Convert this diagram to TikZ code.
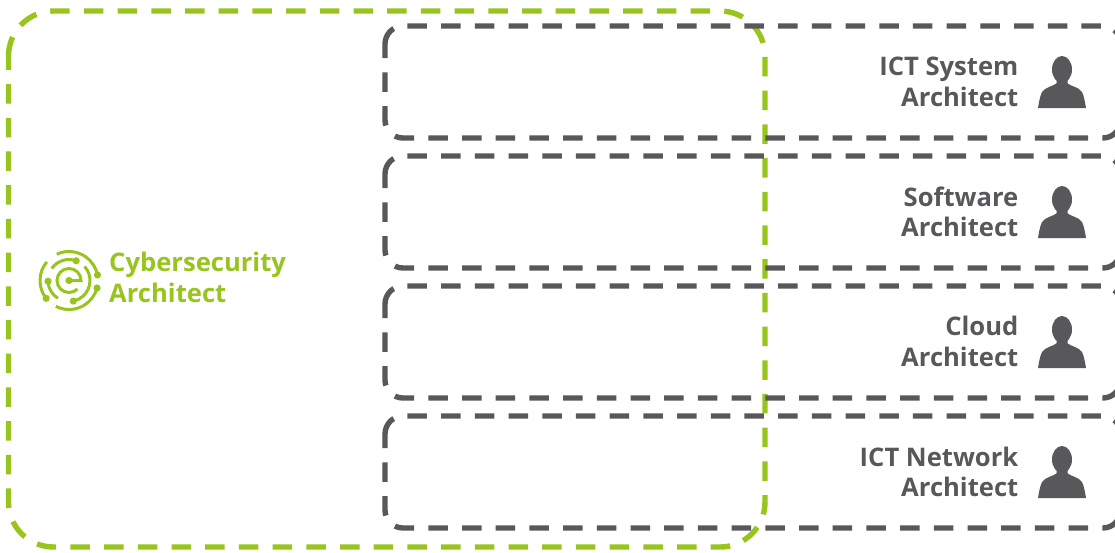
\documentclass[tikz,border=0pt]{standalone}
\usepackage{fontspec}
\setmainfont{Open Sans}
\definecolor{archgreen}{HTML}{98C41E}
\definecolor{archgray}{HTML}{58585A}
\tikzset{
  greenline/.style={archgreen, line width=5.4pt, dash pattern=on 19.5pt off 14.2pt},
  grayline/.style={archgray, line width=5.4pt, dash pattern=on 19.5pt off 14.2pt},
  archlabel/.style={archgray, anchor=east, align=right, font=\bfseries\fontsize{25.6}{30.5}\selectfont, inner sep=0pt},
  person/.pic={
    \fill[archgray] (0,-12.5) ellipse (10 and 13.5);
    \fill[archgray] (-5.5,-3) -- (-5.5,1.3) .. controls (-8,4) and (-17,5) .. (-20,10)
      .. controls (-22,14) and (-23,20) .. (-24,26) -- (24,26)
      .. controls (23,20) and (22,14) .. (20,10) .. controls (17,5) and (8,4) .. (5.5,1.3) -- (5.5,-3) -- cycle;
  },
  logoline/.style={archgreen, line width=3pt},
  logodot/.style={archgreen, radius=3.6},
}
\begin{document}
\begin{tikzpicture}[x=1pt,y=-1pt]
  \useasboundingbox (0,0) rectangle (1115,552);

  % Green outline
  \draw[greenline, rounded corners=45] (8.5,56) -- (8.5,11) -- (765,11) -- (765,547) -- (8.5,547) -- (8.5,56);

  % Gray boxes, one per role
  \draw[grayline, rounded corners=18] (385,45) -- (385,26) -- (1120.8,26) -- (1120.8,138) -- (385,138) -- (385,45);
  \draw[grayline, rounded corners=18] (385,175) -- (385,156) -- (1120.8,156) -- (1120.8,268) -- (385,268) -- (385,175);
  \draw[grayline, rounded corners=18] (385,305) -- (385,286) -- (1120.8,286) -- (1120.8,398) -- (385,398) -- (385,305);
  \draw[grayline, rounded corners=18] (385,435) -- (385,416) -- (1120.8,416) -- (1120.8,528) -- (385,528) -- (385,435);

  % Logo
  \begin{scope}[shift={(69,280.5)}]
    \draw[logoline] (-115:29) arc[start angle=-115, end angle=-11, radius=29];
    \draw[logoline] (-140:29) arc[start angle=-140, end angle=-218, radius=29];
    \draw[logoline] (117:29) arc[start angle=117, end angle=15, radius=29];
    \draw[logoline] (-70:21) arc[start angle=-70, end angle=-145, radius=21];
    \draw[logoline] (178:21) arc[start angle=178, end angle=122, radius=21];
    \draw[logoline] (-42:21) arc[start angle=-42, end angle=78, radius=21];
    \draw[logoline] (0,0) -- (12,0) arc[start angle=0, end angle=-315, radius=12];
    \fill[logodot] (-11:29) circle[];
    \fill[logodot] (142:29) circle[];
    \fill[logodot] (15:29) circle[];
    \fill[logodot] (-70:21) circle[];
    \fill[logodot] (178:21) circle[];
    \fill[logodot] (78:21) circle[];
    \fill[logodot] (0,0) circle[];
  \end{scope}

  % Labels
  \node[anchor=west, align=left, archgreen, font=\bfseries\fontsize{25.6}{30.5}\selectfont, inner sep=0pt] (cyberlabel) at (109,277.5) {Cybersecurity\\Architect};
  \node[archlabel] (systemlabel) at (1018.5,82) {ICT System\\Architect};
  \node[archlabel] (softwarelabel) at (1018.5,212) {Software\\Architect};
  \node[archlabel] (cloudlabel) at (1018.5,341.5) {Cloud\\Architect};
  \node[archlabel] (networklabel) at (1018.5,472) {ICT Network\\Architect};

  % People
  \pic at (1062,82) {person};
  \pic at (1062,212) {person};
  \pic at (1062,342) {person};
  \pic at (1062,472) {person};

\end{tikzpicture}
\end{document}
